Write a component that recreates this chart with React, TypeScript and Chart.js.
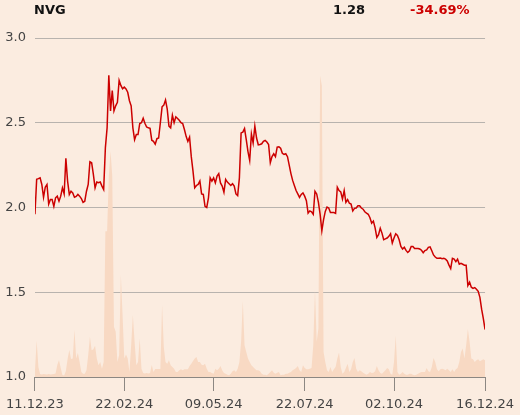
import React, { useEffect, useRef } from 'react';
import { Chart, registerables } from 'chart.js';

Chart.register(...registerables);

const ticker = 'NVG';
const lastPrice = '1.28';
const changePct = '-34.69%';

const tickIndices = [0, 52, 104, 157, 209, 262];
const tickLabels = ['11.12.23', '22.02.24', '09.05.24', '22.07.24', '02.10.24', '16.12.24'];
const yTickValues = [1.0, 1.5, 2.0, 2.5, 3.0];

const priceValues = [
  1.96, 2.166, 2.17, 2.175, 2.136, 2.06, 2.12, 2.136, 2.02, 2.047,
  2.047, 2.007, 2.057, 2.067, 2.037, 2.067, 2.116, 2.08, 2.29, 2.156,
  2.077, 2.096, 2.086, 2.06, 2.065, 2.077, 2.067, 2.053, 2.03, 2.037,
  2.096, 2.136, 2.27, 2.264, 2.195, 2.116, 2.15, 2.146, 2.15, 2.126,
  2.106, 2.353, 2.47, 2.78, 2.57, 2.69, 2.57, 2.6, 2.62, 2.75,
  2.72, 2.70, 2.71, 2.70, 2.68, 2.63, 2.6, 2.47, 2.40, 2.43,
  2.43, 2.495, 2.50, 2.527, 2.497, 2.475, 2.47, 2.467, 2.397, 2.39,
  2.373, 2.406, 2.41, 2.50, 2.594, 2.604, 2.634, 2.58, 2.48, 2.47,
  2.545, 2.50, 2.535, 2.525, 2.515, 2.50, 2.495, 2.46, 2.42, 2.39,
  2.415, 2.30, 2.215, 2.116, 2.13, 2.136, 2.156, 2.08, 2.077, 2.007,
  2.0, 2.057, 2.175, 2.156, 2.175, 2.145, 2.185, 2.2, 2.145, 2.126,
  2.09, 2.166, 2.15, 2.14, 2.13, 2.14, 2.126, 2.08, 2.07, 2.175,
  2.44, 2.445, 2.466, 2.40, 2.33, 2.278, 2.434, 2.38, 2.48, 2.41,
  2.37, 2.372, 2.376, 2.39, 2.396, 2.386, 2.372, 2.264, 2.30, 2.317,
  2.30, 2.356, 2.358, 2.35, 2.32, 2.313, 2.317, 2.30, 2.25, 2.2,
  2.16, 2.13, 2.10, 2.08, 2.06, 2.077, 2.086, 2.067, 2.04, 1.967,
  1.98, 1.975, 1.96, 2.096, 2.08, 2.03, 1.96, 1.863, 1.928, 1.977,
  2.003, 1.997, 1.97, 1.97, 1.97, 1.965, 2.12, 2.10, 2.092, 2.05,
  2.1, 2.03, 2.047, 2.025, 2.02, 1.98, 1.995, 1.997, 2.01, 2.01,
  1.997, 1.99, 1.975, 1.967, 1.96, 1.94, 1.907, 1.92, 1.88, 1.823,
  1.84, 1.878, 1.849, 1.81, 1.815, 1.82, 1.83, 1.845, 1.79, 1.82,
  1.845, 1.835, 1.81, 1.77, 1.755, 1.765, 1.747, 1.735, 1.745, 1.77,
  1.77, 1.758, 1.758, 1.758, 1.755, 1.748, 1.733, 1.746, 1.75, 1.765,
  1.768, 1.745, 1.72, 1.708, 1.70, 1.70, 1.702, 1.698, 1.70, 1.695,
  1.685, 1.66, 1.64, 1.70, 1.695, 1.68, 1.695, 1.665, 1.67, 1.665,
  1.66, 1.66, 1.54, 1.56, 1.53, 1.523, 1.527, 1.518, 1.505, 1.47,
  1.40, 1.345, 1.28,
];

const volumeValues = [
  60, 360, 100, 30, 25, 30, 28, 25, 30, 25,
  28, 30, 35, 120, 170, 90, 20, 15, 60, 180,
  270, 180, 183, 470, 183, 240, 150, 50, 33, 33,
  67, 217, 400, 267, 277, 310, 183, 117, 150, 83,
  150, 1450, 1450, 2000, 2250, 2000, 500, 450, 150, 220,
  1017, 620, 183, 223, 183, 50, 317, 617, 350, 117,
  150, 383, 83, 40, 35, 40, 35, 40, 120, 50,
  80, 80, 80, 80, 717, 300, 150, 133, 167, 117,
  100, 83, 50, 50, 67, 77, 67, 77, 77, 77,
  110, 133, 160, 183, 200, 150, 150, 123, 117, 133,
  83, 50, 50, 40, 33, 83, 67, 83, 110, 67,
  40, 33, 23, 17, 33, 57, 67, 50, 83, 150,
  350, 757, 317, 250, 183, 150, 117, 100, 83, 67,
  67, 57, 33, 23, 23, 17, 33, 50, 67, 43,
  33, 43, 50, 17, 23, 23, 33, 33, 43, 50,
  67, 77, 90, 110, 67, 50, 117, 90, 77, 77,
  83, 90, 317, 867, 350, 483, 3000, 2900, 250, 150,
  67, 50, 100, 50, 77, 100, 183, 243, 100, 33,
  50, 90, 133, 50, 77, 150, 190, 83, 50, 67,
  57, 43, 33, 23, 33, 50, 40, 43, 57, 110,
  67, 40, 33, 50, 67, 90, 77, 33, 23, 150,
  410, 50, 23, 33, 50, 33, 23, 23, 33, 33,
  23, 17, 23, 33, 43, 50, 50, 50, 90, 57,
  50, 100, 190, 150, 77, 57, 77, 83, 77, 67,
  83, 67, 50, 77, 50, 77, 90, 150, 250, 283,
  183, 317, 477, 350, 183, 177, 150, 167, 177, 157,
  167, 177, 167,
];

const BG = '#fbece0';
const FONT = "'DejaVu Sans', sans-serif";

export default function App() {
  const canvasRef = useRef<HTMLCanvasElement | null>(null);

  useEffect(() => {
    document.body.style.margin = '0';
    document.body.style.background = BG;
    const canvas = canvasRef.current;
    if (!canvas) return;
    const chart = new Chart(canvas, {
      type: 'line',
      data: {
        datasets: [
          {
            label: 'Price',
            data: priceValues.map((v, i) => ({ x: i, y: v })),
            borderColor: '#cc0000',
            borderWidth: 1.5,
            pointRadius: 0,
            tension: 0,
            fill: false,
            yAxisID: 'y',
            order: 0,
          },
          {
            label: 'Volume',
            data: volumeValues.map((v, i) => ({ x: i, y: v })),
            borderColor: 'rgba(0,0,0,0)',
            borderWidth: 0,
            backgroundColor: '#f8d9c3',
            pointRadius: 0,
            tension: 0,
            fill: 'origin',
            yAxisID: 'y2',
            order: 1,
          },
        ],
      },
      options: {
        responsive: false,
        animation: false,
        events: [],
        layout: { padding: { left: 0, right: 32, top: 38, bottom: 0 } },
        plugins: { legend: { display: false }, tooltip: { enabled: false } },
        scales: {
          x: {
            type: 'linear',
            min: 0,
            max: priceValues.length - 1,
            afterBuildTicks: (scale: any) => {
              scale.ticks = tickIndices.map((v) => ({ value: v }));
            },
            afterFit: (scale: any) => {
              scale.height = 38;
            },
            ticks: {
              autoSkip: false,
              maxRotation: 0,
              padding: 6,
              color: '#444444',
              font: { family: FONT, size: 13 },
              callback: (value: any) => {
                const k = tickIndices.indexOf(Number(value));
                return k >= 0 ? tickLabels[k] : '';
              },
            },
            grid: {
              drawOnChartArea: false,
              drawTicks: true,
              tickLength: 14,
              color: '#8c8782',
              lineWidth: 1,
            },
            border: { display: true, color: '#8c8782', width: 1 },
          },
          y: {
            type: 'linear',
            position: 'left',
            min: 1,
            max: 3,
            afterBuildTicks: (scale: any) => {
              scale.ticks = yTickValues.map((v) => ({ value: v }));
            },
            afterFit: (scale: any) => {
              scale.width = 34;
            },
            ticks: {
              padding: 9,
              color: '#444444',
              font: { family: FONT, size: 13 },
              callback: (value: any) => Number(value).toFixed(1),
            },
            grid: { drawTicks: false, color: '#b8b3ae', lineWidth: 1 },
            border: { display: false },
          },
          y2: {
            type: 'linear',
            display: false,
            min: 0,
            max: 3375,
          },
        },
      },
    });
    return () => chart.destroy();
  }, []);

  const headStyle: React.CSSProperties = {
    position: 'absolute',
    top: 2,
    fontFamily: FONT,
    fontWeight: 'bold',
    fontSize: 13,
    lineHeight: '15px',
    whiteSpace: 'nowrap',
  };

  return (
    <div style={{ position: 'absolute', left: 0, top: 0, width: 520, height: 415, background: BG, overflow: 'hidden' }}>
      <canvas ref={canvasRef} width={520} height={415} style={{ position: 'absolute', left: 0, top: 0, width: 520, height: 415 }} />
      <span style={{ ...headStyle, left: 34, color: '#111111' }}>{ticker}</span>
      <span style={{ ...headStyle, left: 333, color: '#111111' }}>{lastPrice}</span>
      <span style={{ ...headStyle, left: 410, color: '#cc0000' }}>{changePct}</span>
    </div>
  );
}
